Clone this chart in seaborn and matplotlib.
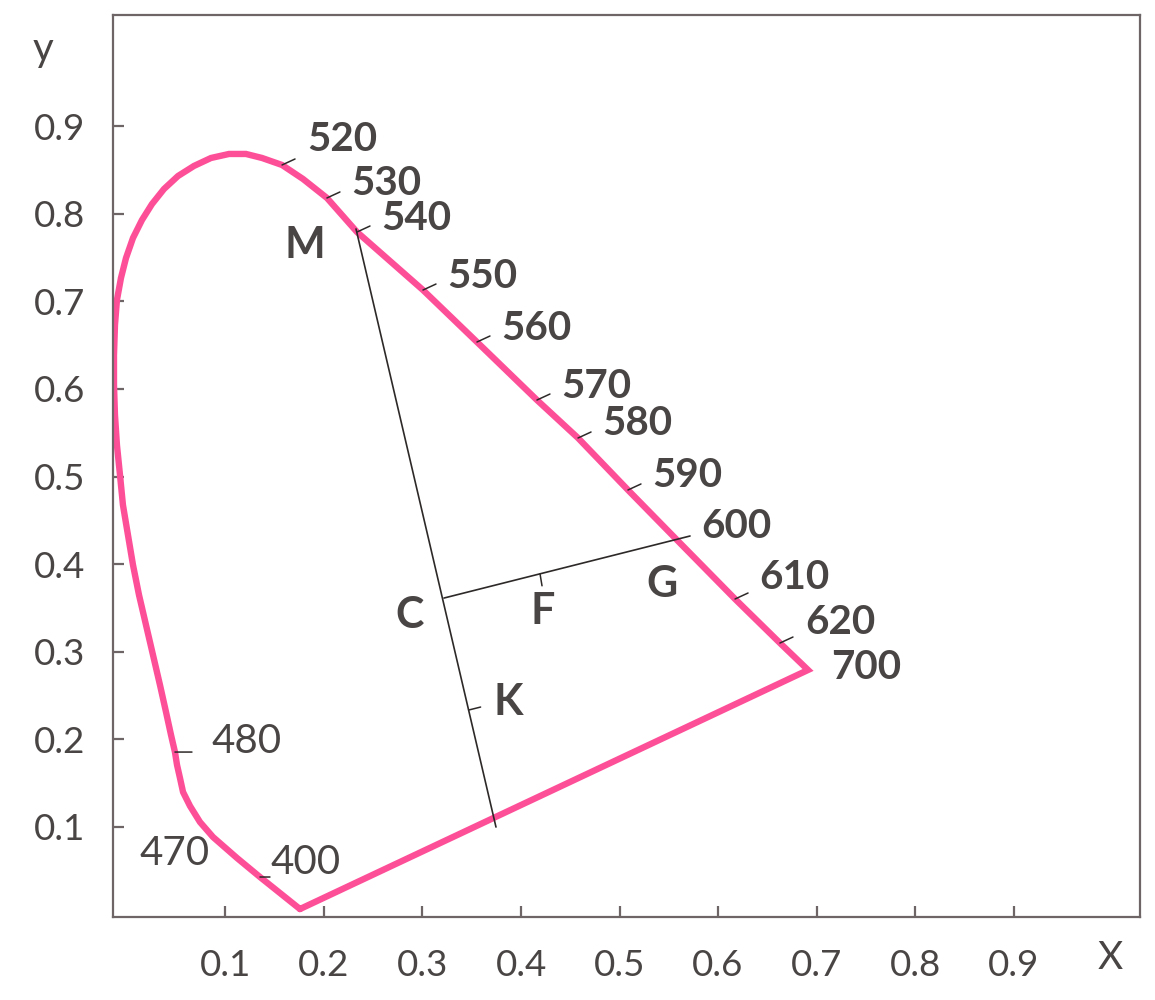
import matplotlib
matplotlib.use("Agg")
import matplotlib.pyplot as plt
import pandas as pd
import seaborn as sns

# ---------------- data ----------------
# spectral locus, closed through the purple line (400 -> ... -> 700 -> 400)
locus_x = [0.1756, 0.1553, 0.1350, 0.1117, 0.0873, 0.0741, 0.0640, 0.0569, 0.0538,
           0.0508, 0.0487, 0.0447, 0.0396, 0.0335, 0.0264, 0.0193, 0.0122, 0.0061,
           0.0010, -0.0041, -0.0071, -0.0102, -0.0122, -0.0132, -0.0132, -0.0122,
           -0.0102, -0.0061, -0.0010, 0.0061, 0.0152, 0.0254, 0.0376, 0.0518,
           0.0680, 0.0853, 0.1036, 0.1208, 0.1371, 0.1574, 0.1787, 0.2030, 0.2335,
           0.3005, 0.3553, 0.4162, 0.4579, 0.5086, 0.5584, 0.6173, 0.6629, 0.6914,
           0.1756]
locus_y = [0.0057, 0.0240, 0.0423, 0.0640, 0.0880, 0.1051, 0.1234, 0.1394, 0.1554,
           0.1703, 0.1851, 0.2046, 0.2309, 0.2617, 0.2960, 0.3303, 0.3646, 0.3989,
           0.4331, 0.4674, 0.5017, 0.5360, 0.5703, 0.6046, 0.6389, 0.6731,
           0.7017, 0.7269, 0.7497, 0.7726, 0.7931, 0.8114, 0.8286, 0.8434,
           0.8549, 0.8640, 0.8686, 0.8686, 0.8640, 0.8560, 0.8400, 0.8183, 0.7794,
           0.7131, 0.6537, 0.5874, 0.5440, 0.4846, 0.4274, 0.3600, 0.3097, 0.2789,
           0.0057]

# bold wavelength marks on the upper-right edge
wl_labels = ["520", "530", "540", "550", "560", "570", "580", "590", "600", "610", "620", "700"]
wl_x = [0.1574, 0.2030, 0.2335, 0.3005, 0.3553, 0.4162, 0.4579, 0.5086, 0.5584, 0.6173, 0.6629, 0.6914]
wl_y = [0.8560, 0.8183, 0.7794, 0.7131, 0.6537, 0.5874, 0.5440, 0.4846, 0.4274, 0.3600, 0.3097, 0.2789]

# regular wavelength marks on the lower-left edge
blue_labels = ["480", "470", "400"]
blue_x = [0.0487, 0.0873, 0.1350]
blue_y = [0.1851, 0.0880, 0.0423]

# construction lines: M -> purple line, C -> beyond 600
mline_x = [0.2325, 0.3746]
mline_y = [0.7829, 0.0994]
cline_x = [0.3218, 0.5716]
cline_y = [0.3611, 0.4320]
# small marks F (on C line) and K (on M line)
mark_x = [0.4193, 0.3468]
mark_y = [0.3888, 0.2331]

# letter labels
pt_labels = ["M", "C", "F", "G", "K"]
pt_x = [0.1807, 0.2873, 0.4223, 0.5431, 0.3868]
pt_y = [0.7646, 0.3417, 0.3463, 0.3771, 0.2423]

ticks = [0.1, 0.2, 0.3, 0.4, 0.5, 0.6, 0.7, 0.8, 0.9]
tick_labels = ["0.1", "0.2", "0.3", "0.4", "0.5", "0.6", "0.7", "0.8", "0.9"]

# ---------------- styling ----------------
sns.set_theme(style="ticks")
plt.rcParams["font.family"] = ["Lato", "DejaVu Sans"]

PINK = "#fd4f98"
INK = "#2e2929"
TXT = "#4a4545"
SPINE = "#6e6666"

fig = plt.figure(figsize=(11.55, 10), dpi=100)
ax = fig.add_axes([113 / 1155, 1 - 917 / 1000, (1140 - 113) / 1155, (917 - 15) / 1000])

locus = pd.DataFrame({"order": range(len(locus_x)), "x": locus_x, "y": locus_y})
sns.lineplot(data=locus, x="x", y="y", sort=False, estimator=None, color=PINK,
             lw=4.6, ax=ax, zorder=2, solid_joinstyle="miter")

sns.lineplot(x=mline_x, y=mline_y, sort=False, estimator=None, color=INK, lw=1.2, ax=ax, zorder=3)
sns.lineplot(x=cline_x, y=cline_y, sort=False, estimator=None, color=INK, lw=1.2, ax=ax, zorder=3)

tick_style = dict(arrowstyle="-", color=INK, lw=1.1, shrinkA=0, shrinkB=0)

# bold wavelength labels and their small ticks
label_offsets = {"520": (60, 25), "610": (59, 22), "620": (60, 21), "700": (58, 2)}
for lab, x, y in zip(wl_labels, wl_x, wl_y):
    if lab not in ("600", "700"):
        ax.annotate("", xy=(x, y), xytext=(13, 6), textcoords="offset pixels",
                    arrowprops=tick_style, zorder=4)
    off = label_offsets.get(lab, (59, 14))
    ax.annotate(lab, xy=(x, y), xytext=off, textcoords="offset pixels",
                ha="center", va="center", fontsize=29, fontweight="bold", color=TXT)

# regular wavelength labels
blue_offsets = {"480": (72, 11), "470": (-38, -16), "400": (46, 15)}
blue_ticks = {"480": (17, 0), "400": (10, 0)}
for lab, x, y in zip(blue_labels, blue_x, blue_y):
    if lab in blue_ticks:
        ax.annotate("", xy=(x, y), xytext=blue_ticks[lab], textcoords="offset pixels",
                    arrowprops=tick_style, zorder=4)
    ax.annotate(lab, xy=(x, y), xytext=blue_offsets[lab], textcoords="offset pixels",
                ha="center", va="center", fontsize=29, color=TXT)

# F and K marks
mark_dirs = [(2, -12), (12, 3)]
for x, y, d in zip(mark_x, mark_y, mark_dirs):
    ax.annotate("", xy=(x, y), xytext=d, textcoords="offset pixels",
                arrowprops=tick_style, zorder=4)

for lab, x, y in zip(pt_labels, pt_x, pt_y):
    ax.text(x, y, lab, ha="center", va="center", fontsize=31, fontweight="bold", color=TXT)

# axes
ax.set_xlim(-0.0142, 1.0284)
ax.set_ylim(-0.0034, 1.0274)
ax.set_xticks(ticks)
ax.set_xticklabels(tick_labels)
ax.set_yticks(ticks)
ax.set_yticklabels(tick_labels)
ax.set_xlabel("")
ax.set_ylabel("")
for s in ax.spines.values():
    s.set_visible(True)
    s.set_color(SPINE)
    s.set_linewidth(1.6)
ax.tick_params(axis="both", which="both", direction="in", length=8, width=1.6,
               color=SPINE, labelcolor=TXT, labelsize=26.5,
               top=False, right=False)
ax.tick_params(axis="y", pad=20)
ax.tick_params(axis="x", pad=23)
ax.grid(False)

fig.text(43 / 1155, 1 - 50 / 1000, "y", ha="center", va="center", fontsize=29, color=TXT)
fig.text(1110 / 1155, 1 - 958 / 1000, "X", ha="center", va="center", fontsize=28,
         color=TXT)

fig.savefig("out.png", dpi=100, facecolor="white")
